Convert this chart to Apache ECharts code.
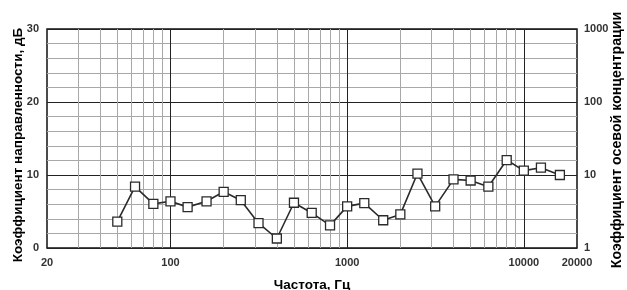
<!DOCTYPE html>
<html><head><meta charset="utf-8">
<script src="https://cdn.jsdelivr.net/npm/echarts@6/dist/echarts.min.js"></script>
<style>html,body{margin:0;padding:0;background:#fff}#c{width:627px;height:290px}</style>
</head><body><div id="c"></div>
<script>
const freqs = [50,63,80,100,125,160,200,250,315,400,500,630,800,1000,1250,1600,2000,2500,3150,4000,5000,6300,8000,10000,12500,16000];
const values = [3.6,8.4,6.05,6.4,5.6,6.4,7.7,6.55,3.4,1.3,6.2,4.8,3.1,5.7,6.15,3.8,4.6,10.2,5.7,9.4,9.25,8.4,12.05,10.6,11.0,10.0];
const minorGridFreqs = [30,40,50,60,70,80,90,200,300,400,500,600,700,800,900,2000,3000,4000,5000,6000,7000,8000,9000];
const majorGridFreqs = [100,1000,10000];
const xTickLabels = [20,100,1000,10000,20000];
const rightTicks = [1,10,100,1000];
const leftTitle = 'Коэффициент направленности, дБ';
const rightTitle = 'Коэффициент осевой концентрации';

const font = 'Liberation Sans, Arial, sans-serif';
const chart = echarts.init(document.getElementById('c'));
chart.setOption({
  animation: false,
  graphic: [
    {type: 'text', x: 18, y: 145, rotation: Math.PI / 2,
      style: {text: leftTitle, font: 'bold 13.5px ' + font, fill: '#000', align: 'center', verticalAlign: 'middle'}},
    {type: 'text', x: 617, y: 140, rotation: Math.PI / 2,
      style: {text: rightTitle, font: 'bold 14.2px ' + font, fill: '#000', align: 'center', verticalAlign: 'middle'}}
  ],
  grid: {left: 47, right: 50, top: 29, bottom: 42, outerBoundsMode: 'none', containLabel: false,
    show: true, borderColor: '#111', borderWidth: 1.5},
  xAxis: {
    type: 'log', logBase: 10, min: 20, max: 20000,
    name: 'Частота, Гц', nameLocation: 'middle', nameGap: 30,
    nameTextStyle: {fontFamily: font, fontWeight: 'bold', fontSize: 13.5, color: '#000'},
    axisLine: {show: false}, axisTick: {show: false}, splitLine: {show: false},
    axisLabel: {fontFamily: font, fontWeight: 'bold', fontSize: 11, color: '#333', margin: 9,
      formatter: v => xTickLabels.indexOf(Math.round(v)) >= 0 ? String(Math.round(v)) : ''}
  },
  yAxis: [{
    type: 'value', min: 0, max: 30, interval: 10,
    axisLine: {show: false}, axisTick: {show: false},
    axisLabel: {fontFamily: font, fontWeight: 'bold', fontSize: 11, color: '#333', margin: 8},
    splitLine: {show: true, lineStyle: {color: '#222', width: 1}},
    minorTick: {show: true, splitNumber: 5, length: 0, lineStyle: {width: 0}},
    minorSplitLine: {show: true, lineStyle: {color: '#a8a8a8', width: 1}}
  }, {
    type: 'log', logBase: 10, min: 1, max: 1000, position: 'right',
    axisLine: {show: false}, axisTick: {show: false}, splitLine: {show: false},
    axisLabel: {fontFamily: font, fontWeight: 'bold', fontSize: 11, color: '#333', margin: 7,
      formatter: v => rightTicks.indexOf(Math.round(v)) >= 0 ? String(Math.round(v)) : ''}
  }],
  series: [{
    type: 'line', data: [], silent: true,
    markLine: {silent: true, symbol: 'none', label: {show: false},
      lineStyle: {color: '#a8a8a8', width: 1, type: 'solid'},
      data: minorGridFreqs.map(f => ({xAxis: f}))}
  }, {
    type: 'line', data: [], silent: true,
    markLine: {silent: true, symbol: 'none', label: {show: false},
      lineStyle: {color: '#222', width: 1, type: 'solid'},
      data: majorGridFreqs.map(f => ({xAxis: f}))}
  }, {
    type: 'line', yAxisIndex: 0,
    data: freqs.map((f, i) => [f, values[i]]),
    lineStyle: {color: '#2a2a2a', width: 1.6},
    symbol: 'rect', symbolSize: 9,
    itemStyle: {color: '#fff', borderColor: '#2a2a2a', borderWidth: 1.3},
    z: 5
  }]
});
</script></body></html>
